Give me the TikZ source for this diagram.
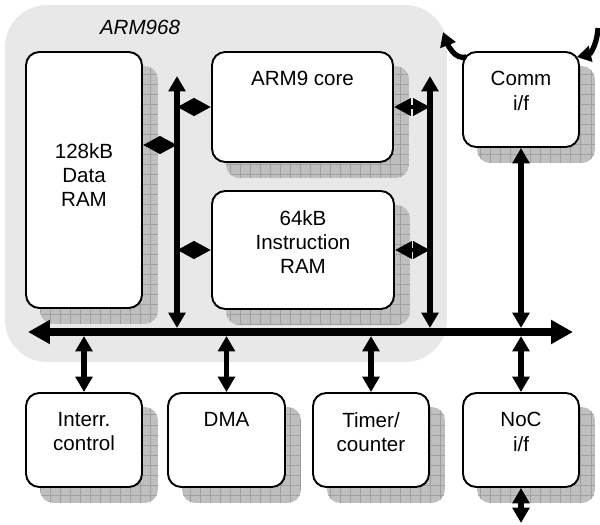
\documentclass[tikz,border=0pt]{standalone}
\usepackage{fontspec}
\setmainfont{Liberation Sans}
\usetikzlibrary{arrows.meta,patterns.meta,backgrounds}

\begin{document}
\begin{tikzpicture}[x=.02cm,y=-.02cm,font=\fontsize{11.7}{13.8}\selectfont,
  blk/.style={draw,line width=1.1pt,rounded corners=7.5pt,fill=white,align=center,inner sep=0pt},
  toptext/.style={label={[anchor=north,align=center,inner sep=0pt,yshift=-11.5pt]north:#1}},
  midtext/.style={label={[align=center,inner sep=0pt,yshift=2.8pt]center:#1}},
  blkshadow/.style={fill=gray!50,rounded corners=7.5pt,postaction={pattern={Hatch[angle=0,distance=5.7pt,line width=.4pt]},pattern color=gray!75}},
  bus/.style={line width=4.2pt,{Triangle[length=12.5pt,width=13pt]}-{Triangle[length=12.5pt,width=13pt]}},
  dbl/.style={line width=3pt,{Triangle[length=8.8pt,width=9.5pt]}-{Triangle[length=8.8pt,width=9.5pt]}},
  dia/.style={line width=2.5pt,{Triangle[length=9.6pt,width=9.5pt]}-{Triangle[length=9.6pt,width=9.5pt]}},
  curv/.style={line width=3pt,-{Triangle[length=8pt,width=9pt]}}]
\useasboundingbox (0,0) rectangle (600,525);
\coordinate (busL) at (28,332);
\coordinate (busR) at (573,332);
\coordinate (busT) at (0,328);
\coordinate (busB) at (0,336);
\coordinate (lvT) at (177,76);
\coordinate (rvT) at (430,76);
\coordinate (nocOut) at (521,523);
\coordinate (cOut) at (443,32);
\coordinate (cIn) at (598,28);
% blocks
\node (arm) at (140,27) {\itshape ARM968};
\node[blk,minimum width=2.32cm,minimum height=5.12cm,midtext={128kB\\Data\\RAM}] (dram) at (84,180) {};
\node[blk,minimum width=3.62cm,minimum height=2.2cm,toptext=ARM9 core] (core) at (302.5,107) {};
\node[blk,minimum width=3.64cm,minimum height=2.36cm,toptext={64kB\\Instruction\\RAM}] (iram) at (303,250) {};
\node[blk,minimum width=2.32cm,minimum height=1.9cm,toptext={Comm\\i/f}] (comm) at (521,99.5) {};
\node[blk,minimum width=2.32cm,minimum height=1.88cm,toptext={Interr.\\control}] (intc) at (84,440) {};
\node[blk,minimum width=2.34cm,minimum height=1.88cm,toptext=DMA] (dma) at (226.5,440) {};
\node[blk,minimum width=2.32cm,minimum height=1.88cm,toptext={Timer/\\counter}] (tmr) at (371,440) {};
\node[blk,minimum width=2.32cm,minimum height=1.88cm,toptext={NoC\\i/f}] (noc) at (521,440) {};
\begin{pgfonlayer}{background}
\fill[gray!18,rounded corners=24pt] (5,5) rectangle (447,362);
\foreach \n in {dram,core,iram,comm,intc,dma,tmr,noc}
  \fill[blkshadow] ([shift={(15,15)}]\n.south west) rectangle ([shift={(15,15)}]\n.north east);
\end{pgfonlayer}
% buses
\draw[bus] (busL) -- (busR);
\draw[dbl] (lvT) -- (lvT |- busT);
\draw[dbl] (rvT) -- (rvT |- busT);
\draw[dbl] (comm.south) -- (comm.south |- busT);
\foreach \n in {intc,dma,tmr,noc} \draw[dbl] (\n.north |- busB) -- (\n.north);
\draw[dbl] (noc.south) -- (nocOut);
% local links
\coordinate (d1) at ([yshift=.7cm]dram.east);
\draw[dia] (d1) -- (lvT |- d1);
\draw[dia] (lvT |- core.west) -- (core.west);
\draw[dia] (lvT |- iram.west) -- (iram.west);
\draw[dia] (core.east) -- (rvT |- core.east);
\draw[dia] (iram.east) -- (rvT |- iram.east);
% comm links
\draw[curv] ([shift={(4,6)}]comm.north west) .. controls (455,60) and (448,45) .. (cOut);
\draw[curv] (cIn) .. controls (597,45) and (590,54) .. ([shift={(-3,6)}]comm.north east);
\end{tikzpicture}
\end{document}
